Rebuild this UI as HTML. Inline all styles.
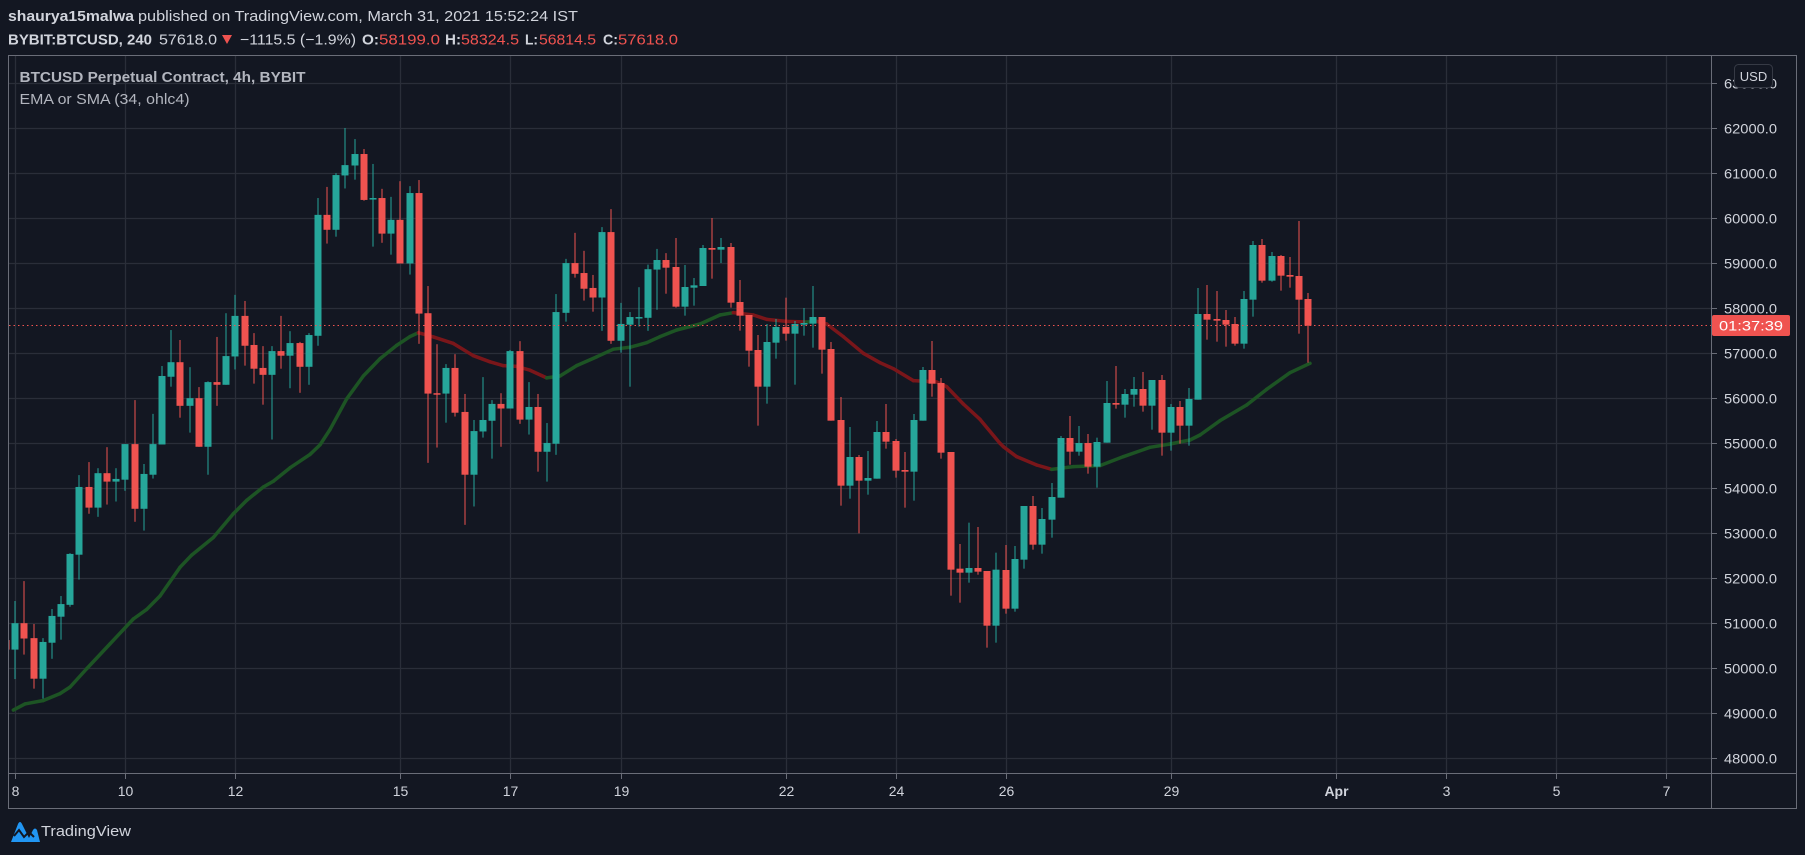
<!DOCTYPE html>
<html><head><meta charset="utf-8">
<style>
html,body{margin:0;padding:0;background:#131722;width:1805px;height:855px;overflow:hidden;}
svg{display:block;font-family:"Liberation Sans",sans-serif;}
</style></head>
<body>
<svg id="s" width="1805" height="855" viewBox="0 0 1805 855" xmlns="http://www.w3.org/2000/svg">
<rect width="1805" height="855" fill="#131722"/>
<g id="grid"></g>
<g id="ema"></g>
<g id="candles" clip-path="url(#cp)"></g>
<defs><clipPath id="cp"><rect x="9" y="56" width="1702" height="716"/></clipPath></defs>
<line x1="9" y1="325.5" x2="1712" y2="325.5" stroke="#ef5350" stroke-width="1" stroke-dasharray="1.5,3"/>
<!-- frame -->
<rect x="8.5" y="55.5" width="1788" height="753" fill="none" stroke="#6a6d78" stroke-width="1"/>
<line x1="1711.5" y1="55" x2="1711.5" y2="809" stroke="#6a6d78"/>
<line x1="8" y1="773.5" x2="1797" y2="773.5" stroke="#6a6d78"/>
<g id="axis" font-size="14" fill="#d1d4dc"></g>
<!-- current price label -->
<rect x="1712" y="315" width="78" height="21" rx="2" fill="#ef5350"/>
<text x="1751" y="330.5" font-size="14" fill="#ffffff" text-anchor="middle" textLength="64" lengthAdjust="spacingAndGlyphs">01:37:39</text>
<!-- USD box -->
<rect x="1734.5" y="64.5" width="38" height="23" rx="4" fill="#131722" stroke="#363a45"/>
<text x="1753.5" y="81" font-size="13" fill="#d1d4dc" text-anchor="middle">USD</text>
<!-- header -->
<text x="8" y="21" font-size="15" fill="#d1d4dc"><tspan font-weight="bold" textLength="126" lengthAdjust="spacingAndGlyphs">shaurya15malwa</tspan><tspan x="138" textLength="440" lengthAdjust="spacingAndGlyphs">published on TradingView.com, March 31, 2021 15:52:24 IST</tspan></text>
<g font-size="15" fill="#d1d4dc">
<text x="8" y="44.5" font-weight="bold" textLength="144" lengthAdjust="spacingAndGlyphs">BYBIT:BTCUSD, 240</text>
<text x="159" y="44.5" textLength="58" lengthAdjust="spacingAndGlyphs">57618.0</text>
<polygon points="222,35 232,35 227,44" fill="#ef5350"/>
<text x="240" y="44.5" textLength="116" lengthAdjust="spacingAndGlyphs">−1115.5 (−1.9%)</text>
<text x="362" y="44.5" font-weight="bold" textLength="17" lengthAdjust="spacingAndGlyphs">O:</text>
<text x="379" y="44.5" fill="#ef5350" textLength="61" lengthAdjust="spacingAndGlyphs">58199.0</text>
<text x="445" y="44.5" font-weight="bold" textLength="16" lengthAdjust="spacingAndGlyphs">H:</text>
<text x="461" y="44.5" fill="#ef5350" textLength="58" lengthAdjust="spacingAndGlyphs">58324.5</text>
<text x="525" y="44.5" font-weight="bold" textLength="13" lengthAdjust="spacingAndGlyphs">L:</text>
<text x="539" y="44.5" fill="#ef5350" textLength="57" lengthAdjust="spacingAndGlyphs">56814.5</text>
<text x="603" y="44.5" font-weight="bold" textLength="15" lengthAdjust="spacingAndGlyphs">C:</text>
<text x="618" y="44.5" fill="#ef5350" textLength="60" lengthAdjust="spacingAndGlyphs">57618.0</text>
</g>
<text x="19.5" y="82" font-size="14.5" font-weight="bold" fill="#b2b5be" textLength="286" lengthAdjust="spacingAndGlyphs">BTCUSD Perpetual Contract, 4h, BYBIT</text>
<text x="19.5" y="104" font-size="14.5" fill="#b2b5be" textLength="170" lengthAdjust="spacingAndGlyphs">EMA or SMA (34, ohlc4)</text>
<!-- logo -->
<g transform="translate(9,820)">
<path d="M2,22 L9,4 Q11,0 13,4 L20,18 L24,10 Q26,7 28,10 L31,22 Z" fill="#2196f3"/>
<path d="M5,16 L10,10 L15,17 L20,12 L25,17" fill="none" stroke="#131722" stroke-width="2"/>
</g>
<text x="41" y="836" font-size="15" fill="#d1d4dc" textLength="90" lengthAdjust="spacingAndGlyphs">TradingView</text>
</svg>
<script>
var NS="http://www.w3.org/2000/svg";
function el(p,t,a,txt){var e=document.createElementNS(NS,t);for(var k in a)e.setAttribute(k,a[k]);if(txt!==undefined)e.textContent=txt;p.appendChild(e);return e;}
var grid=document.getElementById('grid'),axis=document.getElementById('axis');
function py(p){return 128+(62000-p)*0.045;}
for(var p=48000;p<=63000;p+=1000){var y=Math.round(py(p))+0.5;
 el(grid,'line',{x1:9,y1:y,x2:1711,y2:y,stroke:'#2a2e39','stroke-width':1.3});
 el(axis,'line',{x1:1712,y1:y,x2:1717,y2:y,stroke:'#6a6d78'});
 el(axis,'text',{x:1724,y:y+5,textLength:53,lengthAdjust:'spacingAndGlyphs'},p+'.0');}
var dates=[[0,'8'],[2,'10'],[4,'12'],[7,'15'],[9,'17'],[11,'19'],[14,'22'],[16,'24'],[18,'26'],[21,'29'],[24,'Apr'],[26,'3'],[28,'5'],[30,'7']];
dates.forEach(function(d){var x=Math.round(15.3+d[0]*55.02)+0.5;
 el(grid,'line',{x1:x,y1:56,x2:x,y2:773,stroke:'#2a2e39','stroke-width':1.3});
 el(axis,'line',{x1:x,y1:774,x2:x,y2:779,stroke:'#6a6d78'});
 var t=el(axis,'text',{x:x,y:796,'text-anchor':'middle'},d[1]); if(d[1]=='Apr')t.setAttribute('font-weight','bold');});
// candles: [i, color, bodyTop, bodyBot, wickTop, wickBot] in zoom coords
var Z={a:{ox:0,oy:110,sy:2.613},b:{ox:0,oy:110,sy:2.613},c:{ox:0,oy:180,sy:3},d:{ox:0,oy:200,sy:3}};
var A=[[-1,'r',1385,1410,1385,1410],[0,'g',1341,1410,1283,1487],[1,'r',1341,1381,1231,1423],[2,'r',1380,1486,1343,1512],[3,'g',1390,1486,1380,1538],[4,'g',1322,1392,1304,1434],[5,'g',1291,1324,1270,1384],[6,'g',1160,1293,1158,1298],[7,'g',985,1162,954,1227],[8,'r',985,1039,920,1055],[9,'g',949,1039,936,1063],[10,'r',949,971,881,1031],[11,'g',964,971,936,1023],[12,'g',873,966,873,995],[13,'r',873,1042,758,1076],[14,'g',951,1042,925,1099],[15,'g',873,953,794,963],[16,'g',695,874,669,874],[17,'g',659,697,575,723],[18,'r',659,773,601,804],[19,'g',753,773,672,843],[20,'r',753,880,724,880],[21,'g',711,880,709,953],[22,'r',711,718,593,773],[23,'g',643,718,531,718],[24,'g',538,644,483,678],[25,'r',538,616,499,668],[26,'r',614,676,583,715],[27,'r',674,692,617,770],[28,'g',630,692,617,861],[29,'r',630,642,538,676],[30,'g',609,642,578,727],[31,'r',609,671,606,739],[32,'g',588,671,583,718],[33,'g',274,590,230,616],[34,'r',274,313,201,349],[35,'g',170,313,165,331],
[36,'g',144,171,47,205],[37,'g',115,145,76,182],[38,'r',115,235,102,237],[39,'g',230,234,141,357],[40,'r',230,323,206,347],[41,'g',287,323,227,378],[42,'r',287,401,186,401],[43,'g',217,401,199,430],[44,'r',217,532,183,611],[45,'r',531,741,460,922],[46,'r',740,742,612,882],[47,'g',674,741,664,817],[48,'r',674,791,638,801],[49,'r',789,953,742,1084],[50,'g',839,953,810,1036],[51,'g',810,840,698,856],[52,'g',768,812,758,911],[53,'r',768,780,740,880],[54,'g',630,780,627,780],[55,'r',630,809,604,820],[56,'g',776,809,711,848],[57,'r',776,893,742,945],[58,'g',870,893,818,971],[59,'g',528,872,481,901],[60,'g',400,530,389,553],[61,'r',400,428,321,438],[62,'r',426,467,368,498],[63,'r',465,490,431,527],[64,'g',319,490,306,577],[65,'r',319,603,259,611],[66,'g',559,603,504,634],[67,'g',541,561,528,723],[68,'g',541,543,463,566],[69,'g',416,543,404,577],[70,'g',392,417,363,522],[71,'r',392,412,374,480]];
var C=[[72,'r',261,380,174,383],[73,'g',321,380,255,407],[74,'g',316,323,294,377],[75,'g',204,318,195,318],[76,'r',204,209,114,296],[77,'g',201,209,174,249],[78,'r',201,368,189,383],[79,'r',366,407,300,452],[80,'r',405,512,405,560],[81,'r',510,620,465,737],[82,'g',486,620,432,671],[83,'g',441,488,417,536],[84,'r',441,461,353,482],[85,'g',432,461,423,614],[86,'g',429,434,384,467],[87,'g',411,431,318,503],[88,'r',411,509,411,581],[89,'r',507,722,486,722],[90,'r',720,917,651,977],[91,'g',831,917,741,956],[92,'r',831,902,825,1060],[93,'g',894,902,813,944],[94,'g',756,896,723,896],[95,'r',756,785,672,806],[96,'r',783,872,777,893],[97,'r',870,875,816,983],[98,'g',720,875,702,962],[99,'g',570,722,561,722],[100,'r',570,611,483,650],[101,'r',609,818,594,836],[102,'r',816,1169,816,1247],[103,'r',1166,1178,1092,1268],[104,'g',1164,1178,1028,1208],[105,'r',1164,1175,1041,1184],[106,'r',1173,1337,1173,1403],[107,'g',1169,1337,1118,1388]];
var D=[[108,'r',1110,1226,1035,1241],[109,'g',1077,1226,1038,1235],[110,'g',918,1079,918,1106],[111,'r',918,1034,888,1049],[112,'g',957,1034,924,1061],[113,'g',891,959,849,1013],[114,'g',714,893,708,893],[115,'r',714,755,648,794],[116,'g',729,755,678,767],[117,'r',729,800,702,821],[118,'g',726,800,713,863],[119,'g',609,728,543,728],[120,'r',609,614,498,626],[121,'g',582,614,567,653],[122,'g',567,584,531,620],[123,'r',567,617,516,635],[124,'g',540,617,540,689],[125,'r',540,698,525,767],[126,'g',621,698,612,752],[127,'r',621,677,603,731],[128,'g',597,677,564,737],[129,'g',342,599,264,599],[130,'r',342,359,255,419],[131,'r',357,362,273,425],[132,'r',360,374,330,440],[133,'r',372,431,351,437],[134,'g',297,431,273,446],[135,'g',135,299,123,350],[136,'r',135,242,117,248],[137,'g',168,242,156,245],[138,'r',168,227,165,272],[139,'r',225,230,171,263],[140,'r',228,299,63,401],[141,'r',297,377,279,488]];
var cg=document.getElementById('candles');
function draw(arr,oy,sy){arr.forEach(function(c){var x=15.3+c[0]*9.17;var col=c[1]=='g'?'#26a69a':'#ef5350';
 var bt=oy+c[2]/sy,bb=oy+c[3]/sy,wt=oy+c[4]/sy,wb=oy+c[5]/sy;
 el(cg,'rect',{x:Math.round(x)-0.5,y:wt,width:1,height:Math.max(1,wb-wt),fill:col});
 el(cg,'rect',{x:Math.round(x)-3.5,y:bt,width:7,height:Math.max(1.5,bb-bt),fill:col});});}
draw(A,110,2.613);draw(C,180,3);draw(D,200,3);
// EMA
var pts=[];
function addp(arr,ox,oy,sx,sy){arr.forEach(function(p){pts.push([ox+p[0]/sx,oy+p[1]/sy]);});}
addp([[40,1568],[75,1552],[130,1543],[180,1525],[210,1508],[260,1460],[330,1395],[400,1330],[440,1305],[480,1270],[540,1195],[575,1163],[640,1117],[700,1055],[740,1020],[790,985],[820,970],[870,935],[930,900],[960,875]],0,110,3,2.613);
addp([[0,835],[50,755],[100,695],[150,650],[200,615],[240,592],[265,582],[310,593],[370,610],[430,642],[480,658],[520,668],[560,670],[600,680],[650,700],[690,695],[740,668],[800,645],[850,625],[900,620],[950,608]],330,110,3,2.613);
addp([[0,470],[50,450],[120,432],[180,405],[220,398],[280,405],[320,418],[380,424],[440,426],[470,424],[500,432],[550,470],[610,520],[660,548],[700,566],[760,602],[800,604],[830,606],[860,620],[910,672],[960,718],[1020,790]],660,180,3,3);
addp([[40,740],[80,770],[140,795],[185,808],[250,800],[330,797],[400,770],[480,742],[540,732],[600,720],[630,705],[690,662],[770,615],[830,568],[900,518],[960,490]],990,200,3,3);
var eg=document.getElementById('ema');
for(var i=0;i<pts.length-1;i++){var a=pts[i],b=pts[i+1];var col=(b[1]-a[1])>0.3?'#7a161a':'#1d5424';
 el(eg,'line',{x1:a[0],y1:a[1],x2:b[0],y2:b[1],stroke:col,'stroke-width':3.5,'stroke-linecap':'round'});}
</script>
</body></html>
